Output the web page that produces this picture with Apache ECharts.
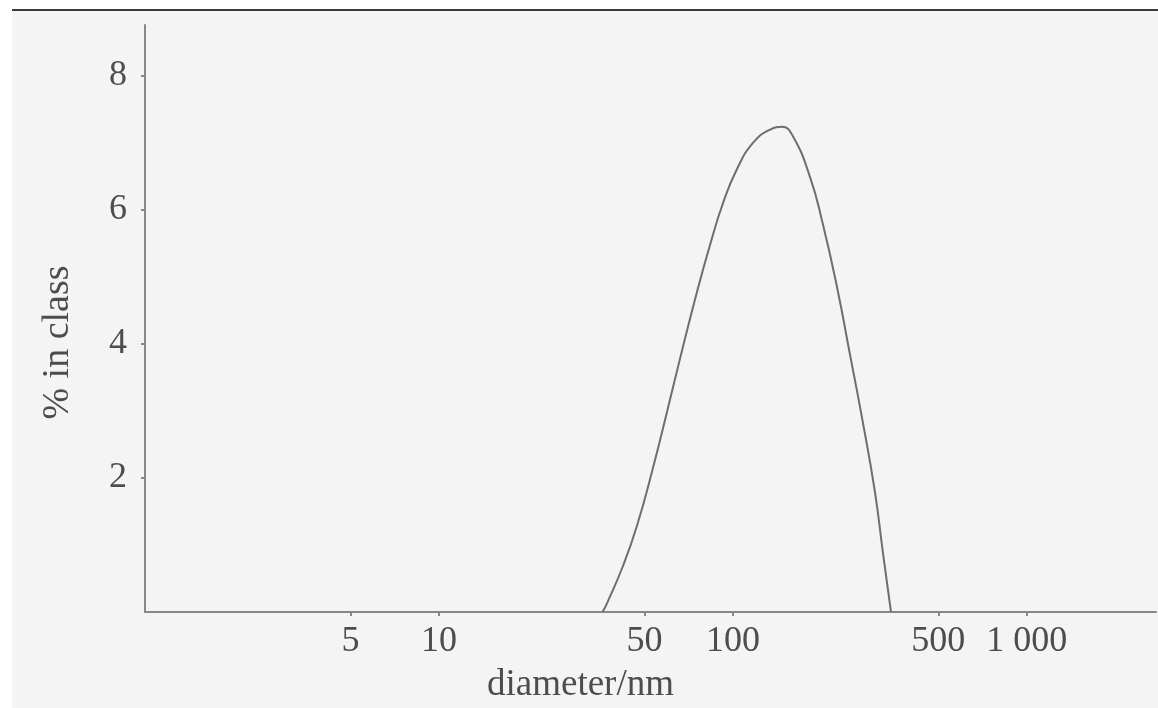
<!DOCTYPE html>
<html>
<head>
<meta charset="utf-8">
<script src="https://cdn.jsdelivr.net/npm/echarts@6/dist/echarts.min.js"></script>
<style>
	html, body { margin: 0; padding: 0; background: #fff; }
	#chart { width: 1158px; height: 708px; }
</style>
</head>
<body>
<div id="chart"></div>
<script>
	// particle size distribution
	const diameters = [36, 37.3, 42.3, 47.2, 53.4, 59.7, 66, 75.5, 83.5, 92.5, 103, 117, 134, 147, 160, 183, 202, 226, 250, 277, 304, 324, 345]
	const percents = [0, 0.13, 0.69, 1.29, 2.14, 2.99, 3.77, 4.78, 5.47, 6.1, 6.6, 7.0, 7.2, 7.24, 7.1, 6.49, 5.8, 4.85, 3.85, 2.82, 1.8, 0.88, 0]
	const xTicks = [5, 10, 50, 100, 500, 1000]
	const yTicks = [2, 4, 6, 8]

	const inkColor = '#4d4d4d'
	const fontFamily = '"Liberation Serif", "DejaVu Serif", serif'

	const chart = echarts.init(document.getElementById('chart'))

	chart.setOption({
		backgroundColor: '#fff',
		animation: false,
		graphic: [{
			type: 'rect',
			z: -10,
			shape: { x: 12, y: 10, width: 1146, height: 698 },
			style: { fill: '#f4f4f4' }
		}, {
			type: 'line',
			z: -5,
			shape: { x1: 12, y1: 10, x2: 1158, y2: 10 },
			style: { stroke: '#3a3a3a', lineWidth: 2 }
		}],
		grid: {
			left: 145,
			right: 2,
			top: 25,
			bottom: 96,
			outerBoundsMode: 'none'
		},
		xAxis: {
			type: 'log',
			logBase: 10,
			min: 1,
			max: 2750,
			name: 'diameter/nm',
			nameLocation: 'middle',
			nameGap: 55,
			nameTextStyle: {
				color: inkColor,
				fontFamily: fontFamily,
				fontSize: 37,
				padding: [0, 140, 0, 0]
			},
			axisLine: { lineStyle: { color: '#888', width: 2 } },
			axisTick: {
				customValues: xTicks,
				length: 4,
				lineStyle: { color: '#888', width: 2 }
			},
			axisLabel: {
				customValues: xTicks,
				color: inkColor,
				fontFamily: fontFamily,
				fontSize: 36,
				margin: 12,
				formatter: function (v) {
					return v === 1000 ? '1 000' : String(v)
				}
			},
			splitLine: { show: false },
			minorTick: { show: false }
		},
		yAxis: {
			type: 'value',
			min: 0,
			max: 8.76,
			name: '% in class',
			nameLocation: 'middle',
			nameGap: 68,
			nameTextStyle: {
				color: inkColor,
				fontFamily: fontFamily,
				fontSize: 38,
				padding: [0, 48, 0, 0]
			},
			axisLine: { show: true, lineStyle: { color: '#888', width: 2 } },
			axisTick: {
				show: true,
				customValues: yTicks,
				length: 4,
				lineStyle: { color: '#888', width: 2 }
			},
			axisLabel: {
				customValues: yTicks,
				color: inkColor,
				fontFamily: fontFamily,
				fontSize: 36,
				margin: 18
			},
			splitLine: { show: false }
		},
		series: [{
			type: 'line',
			smooth: 0.5,
			showSymbol: false,
			lineStyle: { color: '#6e6e6e', width: 2 },
			data: diameters.map((d, i) => [d, percents[i]])
		}]
	})
</script>
</body>
</html>
